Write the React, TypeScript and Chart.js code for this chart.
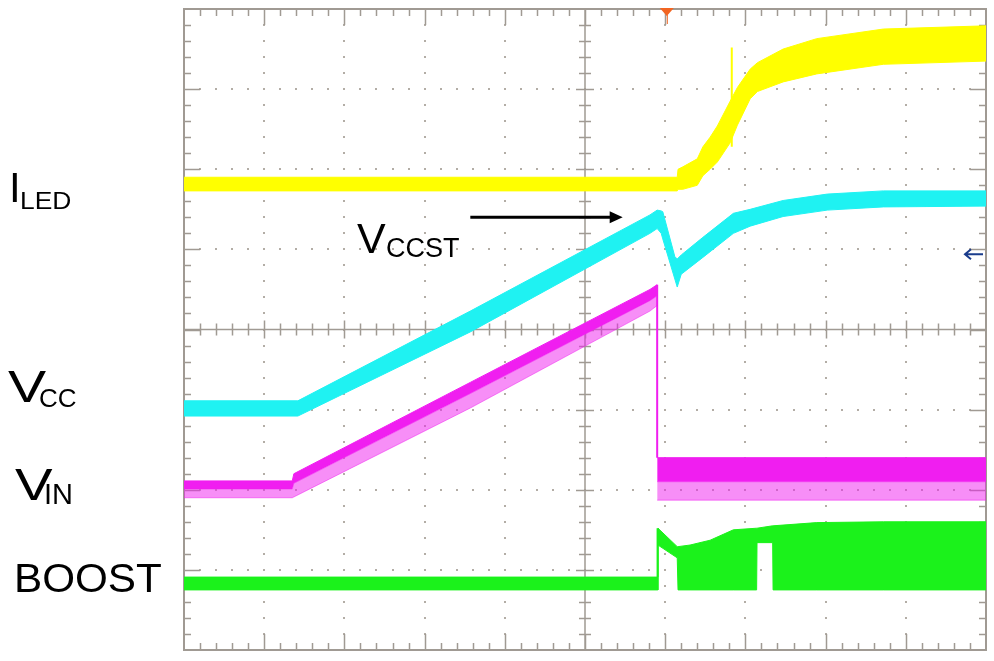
import React, { useEffect, useRef } from "react";
import { Chart, registerables } from "chart.js";

Chart.register(...registerables);

// x: horizontal divisions (0..10), y: vertical divisions (-4..4, 0 = centre line)
// Each trace is a noisy band: upper and lower envelope sampled on a shared time axis.
const ledX = [0, 6.15, 6.16, 6.22, 6.40, 6.47, 6.56, 6.65, 6.81, 6.90, 7.06, 7.15, 7.47, 7.89, 8.72, 10];
const ledHi = [1.90, 1.90, 2.00, 2.03, 2.13, 2.28, 2.40, 2.54, 2.85, 3.02, 3.25, 3.33, 3.50, 3.63, 3.75, 3.79];
const ledLo = [1.73, 1.73, 1.75, 1.75, 1.80, 1.92, 2.00, 2.09, 2.33, 2.55, 2.88, 2.97, 3.09, 3.19, 3.31, 3.35];
const ledSpikeX = [6.83, 6.83];
const ledSpikeY = [3.52, 2.28];

const vccX = [0, 1.42, 3.57, 5.81, 5.90, 5.95, 5.97, 6.12, 6.15, 6.20, 6.47, 6.85, 7.06, 7.47, 8.02, 8.72, 10];
const vccHi = [-0.89, -0.89, 0.23, 1.43, 1.49, 1.48, 1.47, 0.91, 0.88, 0.93, 1.15, 1.45, 1.50, 1.61, 1.69, 1.73, 1.73];
const vccLo = [-1.08, -1.08, -0.03, 1.20, 1.26, 1.20, 1.13, 0.63, 0.53, 0.69, 0.90, 1.20, 1.29, 1.41, 1.49, 1.53, 1.54];

const vinRampX = [0, 1.35, 1.37, 3.57, 5.81, 5.90];
const vinRampHi = [-1.89, -1.89, -1.80, -0.66, 0.50, 0.56];
const vinRampMid = [-1.99, -1.99, -1.92, -0.80, 0.36, 0.42];
const vinRampLo = [-2.10, -2.10, -2.09, -0.98, 0.23, 0.30];
const vinDropX = [5.90, 5.90];
const vinDropY = [0.56, -1.60];
const vinFlatX = [5.90, 10];
const vinFlatHi = [-1.60, -1.60];
const vinFlatMid = [-1.90, -1.90];
const vinFlatLo = [-2.13, -2.13];

const boostX = [0, 5.90, 5.91, 6.15, 6.16, 6.31, 6.56, 6.85, 7.14, 7.145, 7.34, 7.345, 7.89, 8.72, 10];
const boostHi = [-3.09, -3.09, -2.48, -2.71, -2.71, -2.69, -2.63, -2.50, -2.48, -2.48, -2.45, -2.45, -2.41, -2.40, -2.40];
const boostLo = [-3.25, -3.25, -2.69, -2.85, -3.25, -3.25, -3.25, -3.25, -3.25, -2.66, -2.66, -3.25, -3.25, -3.25, -3.25];
const boostEdgeX = [5.905, 5.905];
const boostEdgeY = [-2.48, -3.25];

const triggerX = 6.02;
const markerY = 0.94;
const calloutX = [3.57, 5.47];
const calloutY = 1.40;

const YELLOW = "#ffff00";
const CYAN = "#1ff2f2";
const MAGENTA = "#f01ef0";
const MAGENTA_LIGHT = "rgba(240,30,240,0.5)";
const GREEN = "#1bf21b";
const GRID = "#a09a93";
const DOT = "#b3ada6";

const LABELS = [
  { t: "I", left: 9, base: 203, size: 42, sx: 1 },
  { t: "LED", left: 20, base: 209, size: 24, sx: 1.1 },
  { t: "V", left: 357, base: 253, size: 43, sx: 1 },
  { t: "CCST", left: 386, base: 258, size: 27, sx: 1 },
  { t: "V", left: 8, base: 402, size: 44, sx: 1.3 },
  { t: "CC", left: 39, base: 407, size: 26, sx: 1 },
  { t: "V", left: 15, base: 500, size: 44, sx: 1.28 },
  { t: "IN", left: 44, base: 505, size: 29, sx: 1 },
  { t: "BOOST", left: 14, base: 593, size: 41, sx: 1.03 },
];

const pts = (xs: number[], ys: number[]) => xs.map((x, i) => ({ x, y: ys[i] }));

const line = (data: any[], color: string, width: number, fill: any = false, bg?: string) => ({
  data,
  borderColor: color,
  backgroundColor: bg || color,
  borderWidth: width,
  pointRadius: 0,
  tension: 0,
  fill,
});

const scopePlugin = {
  id: "scope",
  beforeDatasetsDraw(chart: any) {
    const { ctx, scales } = chart;
    const x = scales.x, y = scales.y;
    const L = x.getPixelForValue(0), R = x.getPixelForValue(10);
    const T = y.getPixelForValue(4), B = y.getPixelForValue(-4);
    const cx = x.getPixelForValue(5), cy = y.getPixelForValue(0);
    ctx.save();
    ctx.fillStyle = DOT;
    for (let i = 1; i < 10; i++) {
      if (i === 5) continue;
      const px = x.getPixelForValue(i);
      for (let j = 1; j < 40; j++) {
        const py = y.getPixelForValue(-4 + j * 0.2);
        ctx.fillRect(Math.round(px) - 1, Math.round(py) - 1, 2, 2);
      }
    }
    for (let i = -3; i <= 3; i++) {
      if (i === 0) continue;
      const py = y.getPixelForValue(i);
      for (let j = 1; j < 50; j++) {
        const px = x.getPixelForValue(j * 0.2);
        ctx.fillRect(Math.round(px) - 1, Math.round(py) - 1, 2, 2);
      }
    }
    ctx.strokeStyle = GRID;
    ctx.lineWidth = 2;
    ctx.strokeRect(L, T, R - L, B - T);
    ctx.lineWidth = 1.5;
    ctx.beginPath();
    ctx.moveTo(cx, T); ctx.lineTo(cx, B);
    ctx.moveTo(L, cy); ctx.lineTo(R, cy);
    for (let j = 1; j < 50; j++) {
      const v = j * 0.2;
      const major = Math.abs(v - Math.round(v)) < 1e-6;
      const px = Math.round(x.getPixelForValue(v)) + 0.5;
      const e = major ? 16 : 7;
      const c = major ? 9 : 6;
      ctx.moveTo(px, T); ctx.lineTo(px, T + e);
      ctx.moveTo(px, B); ctx.lineTo(px, B - e);
      ctx.moveTo(px, cy - c); ctx.lineTo(px, cy + c);
    }
    for (let j = 1; j < 40; j++) {
      const v = -4 + j * 0.2;
      const major = Math.abs(v - Math.round(v)) < 1e-6;
      const py = Math.round(y.getPixelForValue(v)) + 0.5;
      const e = major ? 16 : 7;
      const c = major ? 9 : 6;
      ctx.moveTo(L, py); ctx.lineTo(L + e, py);
      ctx.moveTo(R, py); ctx.lineTo(R - e, py);
      ctx.moveTo(cx - c, py); ctx.lineTo(cx + c, py);
    }
    ctx.stroke();
    ctx.restore();
  },
  afterDatasetsDraw(chart: any) {
    const { ctx, scales } = chart;
    const x = scales.x, y = scales.y;
    const T = y.getPixelForValue(4);
    const R = x.getPixelForValue(10);
    ctx.save();
    const tx = x.getPixelForValue(triggerX);
    ctx.fillStyle = "#f26522";
    ctx.beginPath();
    ctx.moveTo(tx - 7, T - 1); ctx.lineTo(tx + 7, T - 1); ctx.lineTo(tx, T + 7); ctx.closePath();
    ctx.fill();
    ctx.strokeStyle = "#f26522";
    ctx.lineWidth = 1;
    ctx.beginPath();
    ctx.moveTo(tx + 0.5, T + 6); ctx.lineTo(tx + 0.5, T + 15);
    ctx.stroke();
    const my = y.getPixelForValue(markerY);
    ctx.strokeStyle = "#1a3c8c";
    ctx.lineWidth = 2;
    ctx.beginPath();
    ctx.moveTo(R - 3, my); ctx.lineTo(R - 20, my);
    ctx.moveTo(R - 15, my - 5); ctx.lineTo(R - 21, my); ctx.lineTo(R - 15, my + 5);
    ctx.stroke();
    const ax0 = x.getPixelForValue(calloutX[0]);
    const ax1 = x.getPixelForValue(calloutX[1]);
    const ay = y.getPixelForValue(calloutY);
    ctx.strokeStyle = "#000";
    ctx.fillStyle = "#000";
    ctx.lineWidth = 3;
    ctx.beginPath();
    ctx.moveTo(ax0, ay); ctx.lineTo(ax1 - 10, ay);
    ctx.stroke();
    ctx.beginPath();
    ctx.moveTo(ax1, ay); ctx.lineTo(ax1 - 13, ay - 6); ctx.lineTo(ax1 - 13, ay + 6); ctx.closePath();
    ctx.fill();
    ctx.restore();
  },
};

export default function App() {
  const ref = useRef<HTMLCanvasElement | null>(null);
  useEffect(() => {
    if (!ref.current) return;
    const chart = new Chart(ref.current, {
      type: "line",
      data: {
        datasets: [
          line(pts(ledX, ledHi), YELLOW, 1),
          line(pts(ledX, ledLo), YELLOW, 1, "-1"),
          line(pts(ledSpikeX, ledSpikeY), YELLOW, 2),
          line(pts(vccX, vccHi), CYAN, 1),
          line(pts(vccX, vccLo), CYAN, 1, "-1"),
          line(pts(vinRampX, vinRampHi), MAGENTA, 1),
          line(pts(vinRampX, vinRampMid), MAGENTA, 0.5, "-1"),
          line(pts(vinRampX, vinRampLo), MAGENTA_LIGHT, 1, "-1", MAGENTA_LIGHT),
          line(pts(vinDropX, vinDropY), MAGENTA, 2),
          line(pts(vinFlatX, vinFlatHi), MAGENTA, 1),
          line(pts(vinFlatX, vinFlatMid), MAGENTA, 0.5, "-1"),
          line(pts(vinFlatX, vinFlatLo), MAGENTA_LIGHT, 1, "-1", MAGENTA_LIGHT),
          line(pts(boostX, boostHi), GREEN, 1),
          line(pts(boostX, boostLo), GREEN, 1, "-1"),
          line(pts(boostEdgeX, boostEdgeY), GREEN, 2),
        ] as any,
      },
      options: {
        animation: false,
        responsive: false,
        devicePixelRatio: 1,
        layout: { padding: { left: 184, top: 9, right: 8, bottom: 11 } },
        scales: {
          x: { type: "linear", min: 0, max: 10, display: false },
          y: { type: "linear", min: -4, max: 4, display: false },
        },
        plugins: { legend: { display: false }, tooltip: { enabled: false } },
      } as any,
      plugins: [scopePlugin],
    });
    return () => chart.destroy();
  }, []);

  return (
    <div style={{ position: "absolute", left: 0, top: 0, width: 994, height: 661, background: "#fff", overflow: "hidden", fontFamily: '"Liberation Sans", Arial, sans-serif' }}>
      <canvas ref={ref} width={994} height={661} style={{ position: "absolute", left: 0, top: 0, width: 994, height: 661 }} />
      {LABELS.map((l, i) => (
        <span
          key={i}
          style={{
            position: "absolute",
            left: l.left,
            top: l.base - 0.8465 * l.size,
            fontSize: l.size,
            lineHeight: 1,
            whiteSpace: "nowrap",
            color: "#000",
            transform: `scaleX(${l.sx})`,
            transformOrigin: "left top",
            display: "inline-block",
          }}
        >
          {l.t}
        </span>
      ))}
    </div>
  );
}
